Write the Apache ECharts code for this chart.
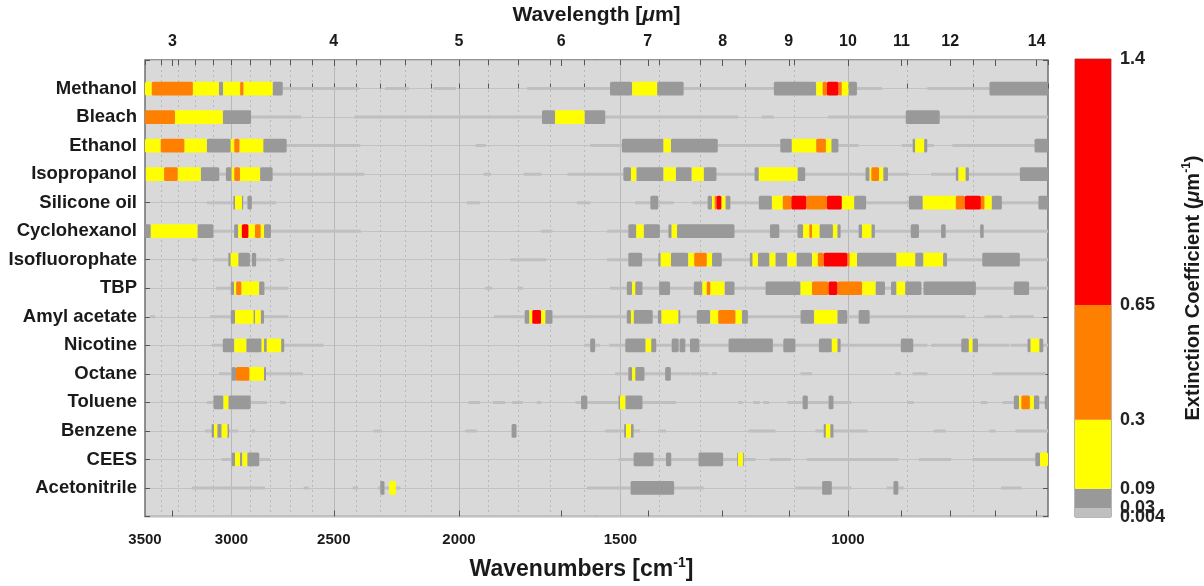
<!DOCTYPE html>
<html><head><meta charset="utf-8">
<script src="https://cdn.jsdelivr.net/npm/echarts@6/dist/echarts.min.js"></script>
<style>html,body{margin:0;padding:0;background:#fff}#c{width:1204px;height:586px}</style>
</head><body><div id="c"></div><script>
// level: 1 = 0.004-0.03, 2 = 0.03-0.09, 3 = 0.09-0.3, 4 = 0.3-0.65, 5 = 0.65-1.4
const compounds = ['Methanol','Bleach','Ethanol','Isopropanol','Silicone oil','Cyclohexanol','Isofluorophate','TBP','Amyl acetate','Nicotine','Octane','Toluene','Benzene','CEES','Acetonitrile'];
const levelBounds = [0.004, 0.03, 0.09, 0.3, 0.65, 1.4];
const levelColors = ['#bfbfbf','#999999','#ffff00','#ff8000','#ff0000'];
const wavenumberLabels = [3500,3000,2500,2000,1500,1000];
const wavenumberTicks = [3500,3400,3300,3200,3100,3000,2900,2800,2700,2600,2500,2400,2300,2200,2100,2000,1900,1800,1700,1600,1500,1400,1300,1200,1100,1000,900,800,700];
const wavenumberDotted = [3400,3300,3200,3100,2900,2800,2700,2600,2400,2300,2200,2100,1900,1800,1700,1600,1400,1300,1200,1100,900,800];
const wavenumberSolid = [3000,2500,2000,1500,1000];
const wavelengthTicks = [3,4,5,6,7,8,9,10,11,12,13,14];
const wavelengthLabels = [3,4,5,6,7,8,9,10,11,12,14];

const methanol = [[3500,3458,3],[3458,3214,4],[3214,3068,3],[3068,3045,2],[3045,2954,3],[2954,2937,4],[2937,2788,3],[2788,2738,2],[2738,2389,1],[2281,2186,1],[2093,2012,1],[1771,1528,1],[1528,1469,2],[1469,1405,3],[1405,1340,2],[1340,1141,1],[1141,1058,2],[1058,1046,3],[1046,1038,4],[1038,1017,5],[1017,1011,4],[1011,999,3],[999,984,2],[984,941,1],[868,777,1],[777,700,2]];
const bleach = [[3500,3318,4],[3318,3047,3],[3047,2897,2],[2897,2650,1],[2410,1725,1],[1725,1685,2],[1685,1599,3],[1599,1541,2],[1541,1216,1],[1166,1141,1],[1036,902,1],[902,849,2],[849,700,1]];
const ethanol = [[3500,3403,3],[3403,3263,4],[3263,3135,3],[3135,3004,2],[3004,2985,3],[2985,2958,4],[2958,2835,3],[2835,2719,2],[2719,2385,1],[1941,1907,1],[1583,1496,1],[1496,1389,2],[1389,1371,3],[1371,1261,2],[1261,1128,1],[1128,1105,2],[1105,1058,3],[1058,1040,4],[1040,1030,3],[1030,1017,2],[1017,981,1],[908,891,1],[891,887,2],[887,873,3],[873,868,2],[868,858,1],[830,717,1],[717,700,2]];
const isopropanol = [[3500,3494,2],[3494,3383,3],[3383,3302,4],[3302,3169,3],[3169,3066,2],[3066,3030,1],[3030,2999,2],[2999,2985,3],[2985,2955,4],[2955,2851,3],[2851,2788,2],[2788,2368,1],[1915,1889,1],[1782,1727,1],[1648,1492,1],[1492,1472,2],[1472,1458,3],[1458,1389,2],[1389,1359,3],[1359,1321,2],[1321,1293,3],[1293,1264,2],[1264,1181,1],[1181,1172,2],[1172,1094,3],[1094,1079,2],[1079,969,1],[969,962,2],[962,959,3],[959,946,4],[946,939,3],[939,931,2],[931,897,1],[862,825,1],[825,821,2],[821,811,3],[811,806,2],[806,736,1],[736,700,2]];
const siliconeOil = [[3135,2990,1],[2990,2981,2],[2981,2945,3],[2945,2938,2],[2938,2916,1],[2916,2893,2],[2893,2771,1],[1972,1926,1],[1621,1583,1],[1461,1422,1],[1422,1402,2],[1402,1364,1],[1319,1284,1],[1284,1274,2],[1274,1268,3],[1268,1264,4],[1264,1253,5],[1253,1244,3],[1244,1233,2],[1233,1172,1],[1172,1145,2],[1145,1123,3],[1123,1106,4],[1106,1077,5],[1077,1038,4],[1038,1011,5],[1011,989,3],[989,968,2],[968,897,1],[897,875,2],[875,825,3],[825,812,4],[812,789,5],[789,784,4],[784,774,3],[774,760,2],[760,712,1],[712,700,2]];
const cyclohexanol = [[3500,3464,2],[3464,3188,3],[3188,3098,2],[3098,2986,1],[2986,2964,2],[2964,2945,3],[2945,2911,5],[2911,2877,3],[2877,2848,4],[2848,2831,3],[2831,2796,2],[2796,2382,1],[1728,1693,1],[1536,1479,1],[1479,1458,2],[1458,1439,3],[1439,1398,2],[1398,1377,1],[1377,1369,2],[1369,1356,3],[1356,1224,2],[1224,1149,1],[1149,1130,2],[1130,1094,1],[1094,1083,2],[1083,1071,3],[1071,1066,4],[1066,1052,3],[1052,1027,2],[1027,1019,3],[1019,1013,2],[1013,981,1],[981,975,2],[975,959,3],[959,953,2],[953,894,1],[894,881,2],[881,847,1],[847,840,2],[840,790,1],[790,785,2],[785,700,1]];
const isofluorophate = [[3220,3191,1],[3098,3017,1],[3017,3004,2],[3004,2964,3],[2964,2903,2],[2903,2893,1],[2893,2871,2],[2871,2800,1],[2764,2731,1],[1825,1711,1],[1536,1479,1],[1479,1443,2],[1443,1402,1],[1402,1396,2],[1396,1371,3],[1371,1329,2],[1329,1315,3],[1315,1286,4],[1286,1274,3],[1274,1252,2],[1252,1191,1],[1191,1185,2],[1185,1174,3],[1174,1150,2],[1150,1138,3],[1138,1114,2],[1114,1096,3],[1096,1066,2],[1066,1055,3],[1055,1044,4],[1044,1001,5],[1001,997,4],[997,984,3],[984,917,2],[917,887,3],[887,874,2],[874,844,3],[844,838,2],[838,787,1],[787,736,2],[736,700,1]];
const tbp = [[3083,3004,1],[3004,2986,2],[2986,2975,3],[2975,2948,4],[2948,2856,3],[2856,2829,2],[2829,2711,1],[1909,1885,1],[1802,1785,1],[1528,1483,1],[1483,1469,2],[1469,1461,3],[1461,1442,2],[1442,1400,1],[1400,1373,2],[1373,1316,1],[1316,1296,2],[1296,1286,3],[1286,1278,4],[1278,1246,3],[1246,1224,2],[1224,1158,1],[1158,1088,2],[1088,1066,3],[1066,1035,4],[1035,1019,5],[1019,975,4],[975,952,3],[952,936,2],[936,926,1],[926,917,2],[917,903,3],[903,877,2],[874,796,2],[796,744,1],[744,724,2],[724,700,1]];
const amylAcetate = [[3471,3438,1],[3117,3004,1],[3004,2981,2],[2981,2885,3],[2885,2877,2],[2877,2848,3],[2848,2831,2],[2831,2711,1],[1879,1779,1],[1779,1764,2],[1764,1755,3],[1755,1728,5],[1728,1715,3],[1715,1693,2],[1693,1483,1],[1483,1472,2],[1472,1465,3],[1465,1416,2],[1416,1403,1],[1403,1394,2],[1394,1353,3],[1353,1348,2],[1348,1309,1],[1309,1278,2],[1278,1260,3],[1260,1222,4],[1222,1208,3],[1208,1195,2],[1195,1088,1],[1088,1062,2],[1062,1019,3],[1019,1001,2],[1001,981,1],[981,962,2],[962,811,1],[784,759,1],[750,718,1]];
const nicotine = [[3108,3047,1],[3047,2985,2],[2985,2922,3],[2922,2843,2],[2843,2831,3],[2831,2817,2],[2817,2746,3],[2746,2731,2],[2731,2547,1],[1600,1583,1],[1583,1569,2],[1569,1555,1],[1530,1487,1],[1487,1434,2],[1434,1420,3],[1420,1407,2],[1407,1369,1],[1369,1352,2],[1350,1336,2],[1336,1325,1],[1325,1303,2],[1303,1237,1],[1237,1143,2],[1143,1122,1],[1122,1098,2],[1098,1053,1],[1053,1029,2],[1029,1019,3],[1019,1013,2],[1013,910,1],[910,890,2],[890,868,1],[862,817,1],[817,806,2],[806,801,3],[801,793,2],[793,750,1],[748,726,1],[726,722,2],[722,711,3],[711,706,2],[706,700,1]];
const octane = [[3067,2999,1],[2999,2976,2],[2976,2906,4],[2906,2831,3],[2831,2821,2],[2821,2641,1],[1514,1479,1],[1479,1469,2],[1469,1461,3],[1461,1437,2],[1437,1385,1],[1385,1371,2],[1371,1325,1],[1323,1282,1],[1274,1263,1],[1088,1066,1],[919,910,1],[891,868,1],[773,703,1]];
const toluene = [[3135,3098,1],[3098,3043,2],[3043,3017,3],[3017,2899,2],[2899,2817,1],[2751,2723,1],[1966,1926,1],[1883,1842,1],[1819,1785,1],[1741,1728,1],[1625,1609,1],[1609,1591,2],[1591,1505,1],[1505,1501,2],[1501,1487,3],[1487,1442,2],[1442,1358,1],[1216,1206,1],[1184,1170,1],[1163,1151,1],[1114,1084,1],[1084,1074,2],[1074,1035,1],[1035,1026,2],[1026,994,1],[900,889,1],[789,780,1],[759,744,1],[744,737,2],[737,734,3],[734,723,4],[723,718,3],[718,711,2],[711,704,1],[704,700,2]];
const benzene = [[3145,3108,1],[3108,3095,2],[3095,3077,3],[3077,3053,2],[3053,3022,3],[3022,3013,2],[3013,2964,1],[2893,2877,1],[2329,2295,1],[1978,1937,1],[1821,1805,2],[1541,1490,1],[1490,1485,2],[1485,1472,3],[1472,1465,2],[1465,1448,1],[1402,1383,1],[1194,1138,1],[1060,1044,1],[1044,1040,2],[1040,1032,3],[1032,1026,2],[1026,966,1],[858,840,1],[777,769,1],[742,700,1]];
const cees = [[3053,2999,1],[2999,2981,2],[2981,2955,3],[2955,2943,2],[2943,2917,3],[2917,2855,2],[2855,2801,1],[1505,1465,1],[1465,1414,2],[1414,1383,1],[1383,1370,2],[1370,1305,1],[1305,1249,2],[1249,1218,1],[1218,1216,2],[1216,1206,3],[1206,1204,2],[1204,1179,1],[1149,1107,1],[1076,914,1],[881,832,1],[801,716,1],[716,710,2],[710,700,3]];
const acetonitrile = [[3220,2826,1],[2638,2614,1],[2417,2394,1],[2311,2301,1],[2301,2284,2],[2284,2265,1],[2265,2238,3],[2238,2220,1],[1592,1473,1],[1473,1363,2],[1363,1293,1],[1098,1047,1],[1047,1029,2],[1029,994,1],[933,922,1],[922,914,2],[914,905,1],[761,734,1]];

const rows = [methanol,bleach,ethanol,isopropanol,siliconeOil,cyclohexanol,isofluorophate,tbp,amylAcetate,nicotine,octane,toluene,benzene,cees,acetonitrile];

const segData = [];
rows.forEach((segs, r) => segs.forEach(s => segData.push([s[0], s[1], r, s[2]])));
segData.sort((a, b) => a[3] - b[3]);

const colorbarData = levelColors.map((c, i) => [0, i === 0 ? 0.0035 : levelBounds[i], levelBounds[i + 1], i]);

const FONT = "'Liberation Sans', Arial, sans-serif";
const txt = '#1a1a1a';

function renderSeg(params, api) {
  const a = api.value(0), b = api.value(1), r = api.value(2), lv = api.value(3);
  const p1 = api.coord([a, r]);
  const p2 = api.coord([b, r]);
  const rowH = Math.abs(api.coord([1000, r + 1])[1] - p1[1]);
  const h = lv === 1 ? 3 : rowH * 0.48;
  const x = Math.min(p1[0], p2[0]);
  const w = Math.abs(p2[0] - p1[0]);
  return {
    type: 'rect',
    shape: { x: x, y: p1[1] - h / 2, width: w, height: h, r: lv === 1 ? 0 : 1.5 },
    style: { fill: levelColors[lv - 1] }
  };
}
function renderBar(params, api) {
  const lo = api.value(1), hi = api.value(2), i = api.value(3);
  const p1 = api.coord([0, lo]);
  const p2 = api.coord([1, hi]);
  return {
    type: 'rect',
    shape: { x: p1[0], y: p2[1], width: p2[0] - p1[0], height: p1[1] - p2[1] },
    style: { fill: levelColors[i] }
  };
}

const tickStyle = { color: '#555', width: 1 };
const cbLabel = { margin: 9, fontSize: 18, fontWeight: 'bold', color: '#222', fontFamily: FONT, formatter: v => String(v) };
const chart = echarts.init(document.getElementById('c'), null, { renderer: 'canvas' });
chart.setOption({
  backgroundColor: '#ffffff',
  animation: false,
  grid: [
    { left: 145, right: 156, top: 59, bottom: 69, show: true, backgroundColor: '#d9d9d9', borderColor: '#707070', borderWidth: 1.5, z: 0 },
    { left: 1075, width: 40, top: 59, bottom: 69, show: true, backgroundColor: 'transparent', borderColor: '#707070', borderWidth: 1 }
  ],
  xAxis: [
    { gridIndex: 0, type: 'log', logBase: 10, min: 700, max: 3500, inverse: true, position: 'bottom',
      axisLine: { show: false },
      axisTick: { show: true, inside: true, length: 5, customValues: wavenumberTicks, lineStyle: tickStyle },
      axisLabel: { customValues: wavenumberLabels, margin: 16, fontSize: 15, fontWeight: 'bold', color: txt, fontFamily: FONT, formatter: v => String(Math.round(v)) },
      splitLine: { show: false },
      name: '{t|Wavenumbers [cm}{s|-1}{t|]}', nameLocation: 'middle', nameGap: 40,
      nameTextStyle: { padding: [0, 30, 0, 0], rich: { t: { fontSize: 23, fontWeight: 'bold', color: txt, fontFamily: FONT }, s: { fontSize: 14, fontWeight: 'bold', color: txt, fontFamily: FONT, padding: [0, 0, 12, 0] } } }
    },
    { gridIndex: 0, type: 'log', logBase: 10, min: 700, max: 3500, inverse: true, position: 'bottom',
      axisLine: { show: false }, axisTick: { show: false, customValues: wavenumberDotted }, axisLabel: { show: false },
      splitLine: { show: true, lineStyle: { color: '#b8b8b8', width: 1, type: [2, 3] } } },
    { gridIndex: 0, type: 'log', logBase: 10, min: 700, max: 3500, inverse: true, position: 'bottom',
      axisLine: { show: false }, axisTick: { show: false, customValues: wavenumberSolid }, axisLabel: { show: false },
      splitLine: { show: true, lineStyle: { color: '#b8b8b8', width: 1 } } },
    { gridIndex: 0, type: 'log', logBase: 10, min: 10000 / 3500, max: 10000 / 700, position: 'top',
      axisLine: { show: false },
      axisTick: { show: true, inside: true, length: 6, customValues: wavelengthTicks, lineStyle: tickStyle },
      axisLabel: { customValues: wavelengthLabels, margin: 10, fontSize: 16, fontWeight: 'bold', color: txt, fontFamily: FONT, formatter: v => String(Math.round(v)) },
      splitLine: { show: false },
      name: '{t|Wavelength [}{i|μ}{t|m]}', nameLocation: 'middle', nameGap: 34,
      nameTextStyle: { rich: { t: { fontSize: 21, fontWeight: 'bold', color: txt, fontFamily: FONT }, i: { fontSize: 21, fontWeight: 'bold', fontStyle: 'italic', color: txt, fontFamily: FONT } } }
    },
    { gridIndex: 0, type: 'log', logBase: 10, min: 700, max: 3500, inverse: true, position: 'top',
      axisLine: { show: false }, axisTick: { show: true, inside: true, length: 5, customValues: wavenumberTicks, lineStyle: tickStyle },
      axisLabel: { show: false }, splitLine: { show: false } },
    { gridIndex: 0, type: 'log', logBase: 10, min: 10000 / 3500, max: 10000 / 700, position: 'bottom',
      axisLine: { show: false }, axisTick: { show: true, inside: true, length: 6, customValues: wavelengthTicks, lineStyle: tickStyle },
      axisLabel: { show: false }, splitLine: { show: false } },
    { gridIndex: 1, type: 'value', min: 0, max: 1, show: false }
  ],
  yAxis: [
    { gridIndex: 0, type: 'value', min: -1, max: 15, interval: 1, inverse: true, position: 'left',
      axisLine: { show: false },
      axisTick: { show: true, inside: true, length: 5, lineStyle: tickStyle },
      axisLabel: { margin: 8, fontSize: 18.5, fontWeight: 'bold', color: txt, fontFamily: FONT, formatter: v => (v >= 0 && v < compounds.length ? compounds[v] : '') },
      splitLine: { show: true, lineStyle: { color: '#c2c2c2', width: 1 } } },
    { gridIndex: 0, type: 'value', min: -1, max: 15, interval: 1, inverse: true, position: 'right',
      axisLine: { show: false }, axisTick: { show: true, inside: true, length: 5, lineStyle: tickStyle },
      axisLabel: { show: false }, splitLine: { show: false } },
    { gridIndex: 1, type: 'value', min: 0.0035, max: 1.4, position: 'right',
      axisLine: { show: false }, axisTick: { show: false }, splitLine: { show: false },
      axisLabel: Object.assign({ customValues: levelBounds.slice(1), hideOverlap: false }, cbLabel),
      name: '{t|Extinction Coefficient (}{i|μ}{t|m}{s|-1}{t|)}', nameLocation: 'middle', nameRotate: 90, nameGap: 70,
      nameTextStyle: { rich: { t: { fontSize: 20, fontWeight: 'bold', color: txt, fontFamily: FONT }, i: { fontSize: 20, fontWeight: 'bold', fontStyle: 'italic', color: txt, fontFamily: FONT }, s: { fontSize: 12, fontWeight: 'bold', color: txt, fontFamily: FONT, padding: [0, 0, 12, 0] } } }
    },
    { gridIndex: 1, type: 'value', min: 0.0035, max: 1.4, position: 'right',
      axisLine: { show: false }, axisTick: { show: false }, splitLine: { show: false },
      axisLabel: Object.assign({ customValues: levelBounds.slice(0, 1), hideOverlap: false }, cbLabel) }
  ],
  series: [
    { type: 'custom', xAxisIndex: 0, yAxisIndex: 0, renderItem: renderSeg, data: segData, clip: true, z: 5, encode: { x: [0, 1], y: 2 } },
    { type: 'custom', xAxisIndex: 6, yAxisIndex: 2, renderItem: renderBar, data: colorbarData, z: 5, encode: { y: [1, 2] } }
  ]
});
</script></body></html>
